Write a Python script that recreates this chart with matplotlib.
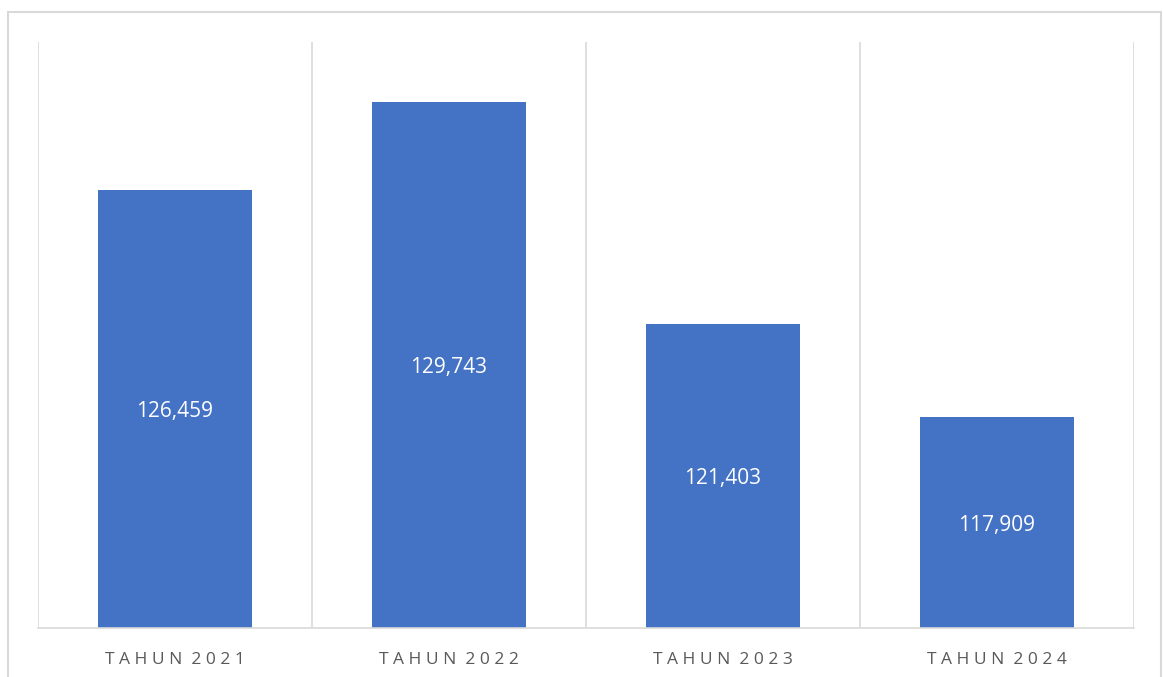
import matplotlib
matplotlib.use("Agg")
import matplotlib.pyplot as plt
from matplotlib.patches import Rectangle

# data
years = ["2021", "2022", "2023", "2024"]
values = [126459, 129743, 121403, 117909]

BAR_COL = "#4472c4"
GRID_COL = "#d9d9d9"
TEXT_COL = "#595959"


def spaced(text):
    # fake the letter spacing of the original axis labels
    return " ".join(text)


fig = plt.figure(figsize=(11.63, 6.77), dpi=100)
ax = fig.add_axes([38 / 1163, 49 / 677, (1134 - 38) / 1163, (628 - 42) / 677])

# outer chart frame
fig.patches.append(Rectangle((8 / 1163, -0.01), (1161 - 8) / 1163, (677 - 12) / 677 + 0.01,
                             transform=fig.transFigure, fill=False,
                             edgecolor=GRID_COL, linewidth=1.5))

x = range(len(years))
bars = ax.bar(x, values, width=0.56, color=BAR_COL, zorder=2)

ax.set_xlim(-0.5, len(years) - 0.5)
ax.set_ylim(110000, 132000)

# category separators
for b in [i - 0.5 for i in range(len(years) + 1)]:
    ax.axvline(b, color=GRID_COL, linewidth=1.2, zorder=1)

for rect, v in zip(bars, values):
    ax.text(rect.get_x() + rect.get_width() / 2, (ax.get_ylim()[0] + v) / 2,
            f"{v:,}", ha="center", va="center_baseline", color="white",
            fontsize=15, family="Open Sans")

ax.set_xticks(list(x))
ax.set_xticklabels([spaced("TAHUN") + "  " + spaced(y) for y in years],
                   color=TEXT_COL, fontsize=12.5, family="Open Sans")
ax.tick_params(axis="x", length=0, pad=17)
ax.set_yticks([])

for s in ["top", "right", "left"]:
    ax.spines[s].set_visible(False)
ax.spines["bottom"].set_color(GRID_COL)
ax.spines["bottom"].set_linewidth(1.2)

fig.savefig("out.png", dpi=100)
